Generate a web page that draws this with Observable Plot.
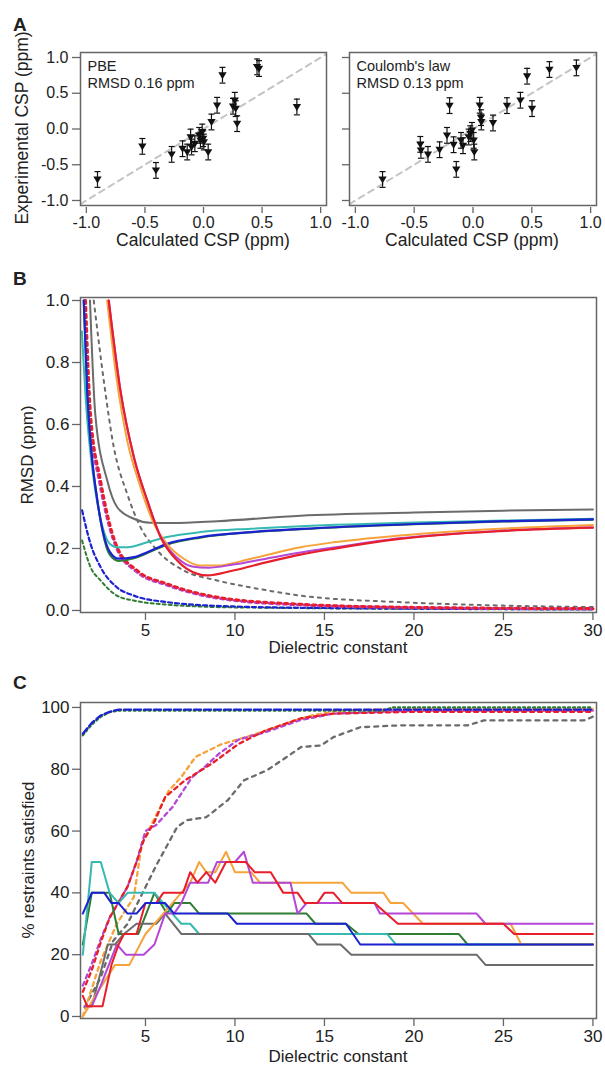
<!DOCTYPE html>
<html><head><meta charset="utf-8">
<script src="https://cdn.jsdelivr.net/npm/d3@7"></script>
<script src="https://cdn.jsdelivr.net/npm/@observablehq/plot@0.6"></script>
<style>
body{margin:0;background:#fff;font-family:"Liberation Sans",Arial,sans-serif;color:#222;}
#root{position:relative;width:605px;height:1067px;overflow:hidden;background:#fff;}
.pl{position:absolute;}
.panel{position:absolute;font-weight:bold;font-size:19px;line-height:1;}
.lab{position:absolute;font-size:17.5px;white-space:nowrap;line-height:1;transform:translate(-50%,-50%);}
.vlab{position:absolute;font-size:17.5px;white-space:nowrap;line-height:1;transform:translate(-50%,-50%) rotate(-90deg);}
</style></head><body><div id="root"></div>
<script>
// ---------- Panel A data ----------
const pbeCalc = [-0.905,-0.522,-0.406,-0.272,-0.179,-0.139,-0.11,-0.102,-0.074,-0.037,-0.026,-0.003,0.003,-0.011,0.04,0.068,0.116,0.162,0.252,0.267,0.275,0.287,0.457,0.474,0.797];
const pbeExp  = [-0.706,-0.243,-0.579,-0.355,-0.276,-0.322,-0.112,-0.252,-0.206,-0.089,-0.159,-0.136,-0.182,-0.042,-0.322,0.098,0.332,0.752,0.318,0.402,0.285,0.075,0.869,0.846,0.308];
const coulCalc = [-0.769,-0.448,-0.443,-0.383,-0.284,-0.199,-0.221,-0.165,-0.142,-0.102,-0.085,-0.023,-0.009,-0.037,0.006,0.011,0.057,0.068,0.071,0.170,0.289,0.403,0.502,0.460,0.650,0.879];
const coulExp  = [-0.706,-0.215,-0.299,-0.355,-0.290,0.327,-0.089,-0.220,-0.565,-0.159,-0.234,-0.065,-0.019,-0.112,-0.159,-0.322,0.332,0.159,0.098,0.084,0.327,0.402,0.285,0.738,0.832,0.855];
const cspError = 0.11;
const diagonal = [-1.05, 1.05];
const aTicks = [-1, -0.5, 0, 0.5, 1];
const pbeNote = "PBE\nRMSD 0.16 ppm";
const coulNote = "Coulomb's law\nRMSD 0.13 ppm";

// ---------- Panel B data (dielectric constant, RMSD ppm) ----------
const bGray    = [[1.9,1.0],[2.2,0.63],[2.86,0.42],[3.42,0.333],[4.35,0.296],[5.28,0.283],[6.5,0.282],[9,0.288],[13.66,0.306],[20,0.316],[25,0.322],[30,0.326]];
const bTeal    = [[1.45,0.9],[1.7,0.65],[2.0,0.47],[2.3,0.35],[2.6,0.27],[3.0,0.215],[3.4,0.204],[4.0,0.204],[5.1,0.22],[6.2,0.237],[8.07,0.253],[10.9,0.264],[13.66,0.272],[20,0.284],[25,0.29],[30,0.296]];
const bGreen   = [[1.55,1.0],[1.75,0.7],[2.0,0.5],[2.3,0.36],[2.6,0.255],[3.0,0.18],[3.5,0.16],[4.35,0.168],[5.1,0.185],[6.2,0.212],[8.07,0.235],[10.9,0.252],[13.66,0.262],[20,0.278],[25,0.287],[30,0.293]];
const bBlue    = [[1.55,1.0],[1.75,0.7],[2.0,0.5],[2.3,0.36],[2.6,0.26],[3.0,0.19],[3.5,0.167],[4.35,0.172],[5.1,0.188],[6.2,0.215],[8.07,0.237],[10.9,0.253],[13.66,0.263],[20,0.279],[25,0.288],[30,0.294]];
const bOrange  = [[2.86,1.0],[3.4,0.742],[3.98,0.548],[4.72,0.398],[5.47,0.28],[6.2,0.215],[7.14,0.167],[8.07,0.145],[9.0,0.145],[10.9,0.167],[13.66,0.204],[15.5,0.22],[19.2,0.242],[24.8,0.264],[30,0.276]];
const bMagenta = [[2.95,1.0],[3.6,0.71],[4.35,0.495],[5.1,0.355],[5.84,0.24],[6.77,0.17],[7.6,0.142],[8.5,0.138],[9.9,0.148],[11.8,0.168],[13.66,0.187],[15.5,0.203],[19.2,0.233],[24.8,0.257],[30,0.268]];
const bRed     = [[2.95,1.0],[3.6,0.71],[4.35,0.495],[5.1,0.355],[5.84,0.237],[6.77,0.161],[7.9,0.118],[8.45,0.113],[9.9,0.129],[11.8,0.156],[13.66,0.18],[15.5,0.199],[19.2,0.231],[24.8,0.256],[30,0.267]];
const bGrayDash    = [[2.11,1.0],[2.67,0.742],[3.23,0.527],[3.98,0.376],[4.72,0.269],[5.65,0.194],[7.14,0.129],[9.0,0.097],[11.8,0.065],[13.66,0.048],[19.2,0.027],[24.8,0.016],[30,0.011]];
const bMagentaDash = [[1.62,1.0],[1.9,0.63],[2.45,0.41],[2.85,0.3],[3.4,0.2],[4.5,0.125],[6.2,0.082],[9,0.04],[13.66,0.018],[20,0.009],[30,0.005]];
const bRedDash     = [[1.65,1.0],[1.93,0.634],[2.49,0.419],[2.86,0.312],[3.42,0.204],[4.53,0.129],[6.2,0.086],[9.0,0.043],[13.66,0.02],[20,0.01],[30,0.006]];
const bGreenDash   = [[1.46,0.226],[1.93,0.14],[2.49,0.097],[3.4,0.048],[4.35,0.032],[6.2,0.019],[10,0.01],[30,0.003]];
const bBlueDash    = [[1.46,0.323],[1.93,0.215],[2.49,0.14],[3.4,0.075],[4.35,0.048],[6.2,0.027],[9.9,0.013],[15,0.008],[30,0.004]];
const bTicksY = [0, 0.2, 0.4, 0.6, 0.8, 1.0];
const dielTicks = [5, 10, 15, 20, 25, 30];

// ---------- Panel C data (dielectric constant, % restraints satisfied) ----------
const cGrayDash    = [[1.6,3],[2.5,12.6],[3.2,24.5],[4.0,30],[4.72,38.6],[5.65,49.4],[6.77,61.3],[7.3,63.5],[8.4,64.5],[9.6,70],[10.5,76.4],[11.8,79.7],[12.9,84],[13.7,87.2],[14.8,87.7],[15.5,90.4],[17,93.6],[19.2,94.2],[23,94.2],[23.9,95.8],[29.5,95.8],[30,97]];
const cOrangeDash  = [[1.5,0],[2.5,18],[3.4,30],[4.35,38.6],[4.8,56],[5.5,64],[6.3,73],[7,77.5],[7.8,84],[9.2,88],[10.6,90.4],[11.7,92.5],[13.2,95.5],[14.3,97.4],[15.8,99],[20,99.5],[30,99.5]];
const cMagentaDash = [[1.5,10],[2,17],[2.5,25],[3,32],[3.5,37],[4,42],[4.5,50],[5,60],[5.6,62],[6.5,67.7],[7.6,77.4],[8.3,80.7],[9.1,85],[10.2,89.6],[11.7,92],[13.7,96],[15.5,98],[20,99],[30,99]];
const cRedDash     = [[1.5,8],[2,15],[2.5,24],[3,32],[3.5,37],[4,42],[4.5,50],[4.9,57],[5.5,63],[6.1,71],[7.2,76.4],[8.7,81.8],[10.2,88.2],[11.7,92.5],[13.7,96.5],[15.5,98],[20,98.6],[30,98.6]];
const cGreenDash   = [[1.5,91],[2,94.5],[2.5,97],[3,98.5],[3.5,99],[18.3,99],[18.8,100],[30,100]];
const cBlueDash    = [[1.5,91.5],[2,95],[2.5,97.4],[3,98.6],[3.5,99.3],[30,99.3]];
const cGreen   = [[1.5,23.3],[2,40],[3,40],[3.5,26.7],[4.6,26.7],[5.5,40],[6.2,33.3],[6.6,36.7],[7.5,36.7],[8,33.3],[14,33.3],[14.5,30],[16.2,30],[16.9,26.7],[22.5,26.7],[23,23.3],[30,23.3]];
const cTeal    = [[1.5,20],[2,50],[2.5,50],[3,40],[3.5,36.7],[4,40],[5.5,40],[6,36.7],[6.5,33.3],[7,30],[7.5,30],[8,26.7],[18.5,26.7],[19,23.3],[30,23.3]];
const cGray    = [[1.6,3.3],[2.0,3.3],[2.9,23.3],[3.3,23.3],[3.8,26.7],[4.5,30],[5.6,30],[6.1,33.3],[7,26.7],[14.1,26.7],[14.6,23.3],[15.9,23.3],[16.5,20],[23.5,20],[24,16.7],[30,16.7]];
const cOrange  = [[1.5,0],[2.2,6.7],[3.3,16.7],[4.1,16.7],[5,26.7],[6,33.3],[7,40],[7.5,43.3],[8,50],[8.4,46.7],[8.9,46.7],[9.5,53.3],[10,46.7],[10.9,46.7],[11.4,43.3],[16,43.3],[16.5,40],[18.3,40],[18.7,36.7],[19.4,36.7],[20.5,30],[25.4,30],[26,23.3],[30,23.3]];
const cMagenta = [[1.6,3.3],[2.0,3.3],[2.5,10],[3.4,23.3],[3.9,20],[4.9,20],[5.5,23.3],[6.1,33.3],[6.6,33.3],[7,36.7],[7.5,43.3],[8.5,43.3],[9,50],[10,50],[10.5,53.3],[11,43.3],[13.1,43.3],[13.5,33.3],[14,36.7],[17.8,36.7],[18.1,33.3],[23.5,33.3],[24,30],[30,30]];
const cRed     = [[1.5,6.7],[1.75,3.3],[2.6,3.3],[3.1,16.7],[3.5,23.3],[3.8,26.7],[4.5,26.7],[5,36.7],[5.6,36.7],[6.0,40],[7.1,40],[7.5,46.7],[7.9,43.3],[8.4,46.7],[8.9,43.3],[9.5,50],[10.6,50],[11.1,46.7],[12,46.7],[12.7,40],[13.5,40],[13.9,36.7],[14.6,36.7],[15,40],[15.5,40],[16,36.7],[17.8,36.7],[19.1,30],[25,30],[25.6,26.7],[30,26.7]];
const cBlue    = [[1.5,33.3],[2,40],[2.7,40],[3.1,36.7],[3.5,36.7],[4,33.3],[4.5,33.3],[5,36.7],[6.1,36.7],[6.6,33.3],[9.6,33.3],[10.1,30],[16.2,30],[17,23.3],[30,23.3]];
const cTicksY = [0, 20, 40, 60, 80, 100];

// ---------- colours ----------
const C = {gray:"#6b6b6b", teal:"#36b9b0", blue:"#1c22d0", green:"#2e7d32", orange:"#f5a33a", magenta:"#b447d6", red:"#e61f2b"};

const root = document.getElementById("root");
const svgStyle = "font-family:'Liberation Sans',Arial,sans-serif;color:#222;overflow:visible;background:transparent;";
function place(el, left, top){ el.classList.add("pl"); el.style.left = left+"px"; el.style.top = top+"px"; root.appendChild(el); }
function addText(cls, txt, left, top, extra){ const d=document.createElement("div"); d.className=cls; d.textContent=txt; d.style.left=left+"px"; d.style.top=top+"px"; if(extra) Object.assign(d.style, extra); root.appendChild(d); }

// custom symbols
const triDown = {draw(ctx, size){ const s=Math.sqrt(size/Math.PI); ctx.moveTo(-s*1.15,-s*0.8); ctx.lineTo(s*1.15,-s*0.8); ctx.lineTo(0,s*1.1); ctx.closePath(); }};
const hbar = {draw(ctx, size){ const s=Math.sqrt(size/Math.PI); ctx.moveTo(-s,0); ctx.lineTo(s,0); }};
const fmt1 = d => d.toFixed(1);

function scatter(calc, exp, note, showLabels, width, mLeft, mRight){
  const pts = calc.map((c,i)=>({c, e:exp[i]}));
  return Plot.plot({
    width, height: 250, marginLeft: mLeft, marginRight: mRight, marginTop: 52, marginBottom: 45,
    style: svgStyle + "font-size:16px;",
    x: {domain: [-1.05, 1.05]},
    y: {domain: [-1.07, 1.07]},
    marks: [
      Plot.line(diagonal, {x: d=>d, y: d=>d, stroke:"#c4c4c4", strokeWidth:2, strokeDasharray:"6,5", clip:true}),
      Plot.ruleX(pts, {x:"c", y1: d=>d.e-cspError, y2: d=>d.e+cspError, stroke:"#111", strokeWidth:1.2}),
      Plot.dot(pts, {x:"c", y: d=>d.e-cspError, symbol: hbar, r:3, stroke:"#111", strokeWidth:1.2, fill:"none"}),
      Plot.dot(pts, {x:"c", y: d=>d.e+cspError, symbol: hbar, r:3, stroke:"#111", strokeWidth:1.2, fill:"none"}),
      Plot.dot(pts, {x:"c", y:"e", symbol: triDown, r:3.6, fill:"#111", stroke:"none"}),
      Plot.text([note], {text: d=>d, frameAnchor:"top-left", dx:7, dy:6, lineAnchor:"top", textAnchor:"start", fontSize:14.5, lineHeight:1.17, fill:"#222"}),
      Plot.axisY({ticks: aTicks, tickSize: showLabels?8:7, tickPadding:4, tickFormat: showLabels?fmt1:(()=>""), label:null, stroke:"#666", strokeWidth:1.3, fill:"#222", fontSize:16}),
      Plot.axisX({ticks: aTicks, tickSize:6, tickPadding:3, dy:2, tickFormat: fmt1, label:null, stroke:"#666", strokeWidth:1.3, fill:"#222", fontSize:16}),
      Plot.frame({stroke:"#666", strokeWidth:1.5})
    ]
  });
}

place(scatter(pbeCalc, pbeExp, pbeNote, true, 335, 80, 9), 0, 0);
place(scatter(coulCalc, coulExp, coulNote, false, 270, 14, 9), 335, 0);

function lineMarks(series, curve){
  return series.map(s => Plot.line(s.pts, {x: d=>d[0], y: d=>d[1], stroke: s.color, strokeWidth: s.w, strokeDasharray: s.dash || null, curve, clip: true}));
}

const bSeries = [
  {pts:bGrayDash, color:C.gray, w:2, dash:"3,5"},
  {pts:bGreenDash, color:C.green, w:2, dash:"3,3"},
  {pts:bBlueDash, color:C.blue, w:2.2, dash:"4,3"},
  {pts:bMagentaDash, color:C.magenta, w:3, dash:"3,4"},
  {pts:bRedDash, color:C.red, w:3, dash:"3,4"},
  {pts:bGray, color:C.gray, w:2},
  {pts:bTeal, color:C.teal, w:2},
  {pts:bGreen, color:C.green, w:2},
  {pts:bBlue, color:C.blue, w:2.2},
  {pts:bOrange, color:C.orange, w:2},
  {pts:bMagenta, color:C.magenta, w:2},
  {pts:bRed, color:C.red, w:2.2}
];

const bPlot = Plot.plot({
  width: 605, height: 380, marginLeft: 80, marginRight: 9, marginTop: 12, marginBottom: 53,
  style: svgStyle + "font-size:17px;",
  x: {domain: [1.37, 30.2]},
  y: {domain: [-0.0065, 1.0097]},
  marks: [
    ...lineMarks(bSeries, "monotone-x"),
    Plot.axisY({ticks: bTicksY, tickSize:8, tickPadding:3, tickFormat: fmt1, label:null, stroke:"#666", strokeWidth:1.3, fill:"#222", fontSize:17}),
    Plot.axisX({ticks: dielTicks, tickSize:8, tickPadding:3, label:null, stroke:"#666", strokeWidth:1.3, fill:"#222", fontSize:17}),
    Plot.frame({stroke:"#666", strokeWidth:1.5})
  ]
});
place(bPlot, 0, 285);

const cSeries = [
  {pts:cGrayDash, color:C.gray, w:2.3, dash:"4,5"},
  {pts:cOrangeDash, color:C.orange, w:2.3, dash:"4,4"},
  {pts:cMagentaDash, color:C.magenta, w:2.3, dash:"4,4"},
  {pts:cRedDash, color:C.red, w:2.3, dash:"4,4"},
  {pts:cGreenDash, color:C.green, w:2.3, dash:"2,3"},
  {pts:cBlueDash, color:C.blue, w:2.3, dash:"7,3"},
  {pts:cGreen, color:C.green, w:2},
  {pts:cTeal, color:C.teal, w:2},
  {pts:cGray, color:C.gray, w:2},
  {pts:cOrange, color:C.orange, w:2},
  {pts:cMagenta, color:C.magenta, w:2},
  {pts:cRed, color:C.red, w:2},
  {pts:cBlue, color:C.blue, w:2}
];

const cPlot = Plot.plot({
  width: 605, height: 377, marginLeft: 80, marginRight: 9, marginTop: 12, marginBottom: 49,
  style: svgStyle + "font-size:17px;",
  x: {domain: [1.37, 30.2]},
  y: {domain: [-0.65, 101.6]},
  marks: [
    ...lineMarks(cSeries, "linear"),
    Plot.axisY({ticks: cTicksY, tickSize:8, tickPadding:3, label:null, stroke:"#666", strokeWidth:1.3, fill:"#222", fontSize:17}),
    Plot.axisX({ticks: dielTicks, tickSize:8, tickPadding:3, label:null, stroke:"#666", strokeWidth:1.3, fill:"#222", fontSize:17}),
    Plot.frame({stroke:"#666", strokeWidth:1.5})
  ]
});
place(cPlot, 0, 690);

// panel letters and axis titles
addText("panel", "A", 13, 15);
addText("panel", "B", 13, 269);
addText("panel", "C", 13, 673);
addText("vlab", "Experimental CSP (ppm)", 23, 128);
addText("lab", "Calculated CSP (ppm)", 203, 241);
addText("lab", "Calculated CSP (ppm)", 472, 241);
addText("vlab", "RMSD (ppm)", 27, 455, {fontSize:"17px"});
addText("lab", "Dielectric constant", 338, 647, {fontSize:"17px"});
addText("vlab", "% restraints satisfied", 28, 860, {fontSize:"17px"});
addText("lab", "Dielectric constant", 338, 1056, {fontSize:"17px"});
</script></body></html>
